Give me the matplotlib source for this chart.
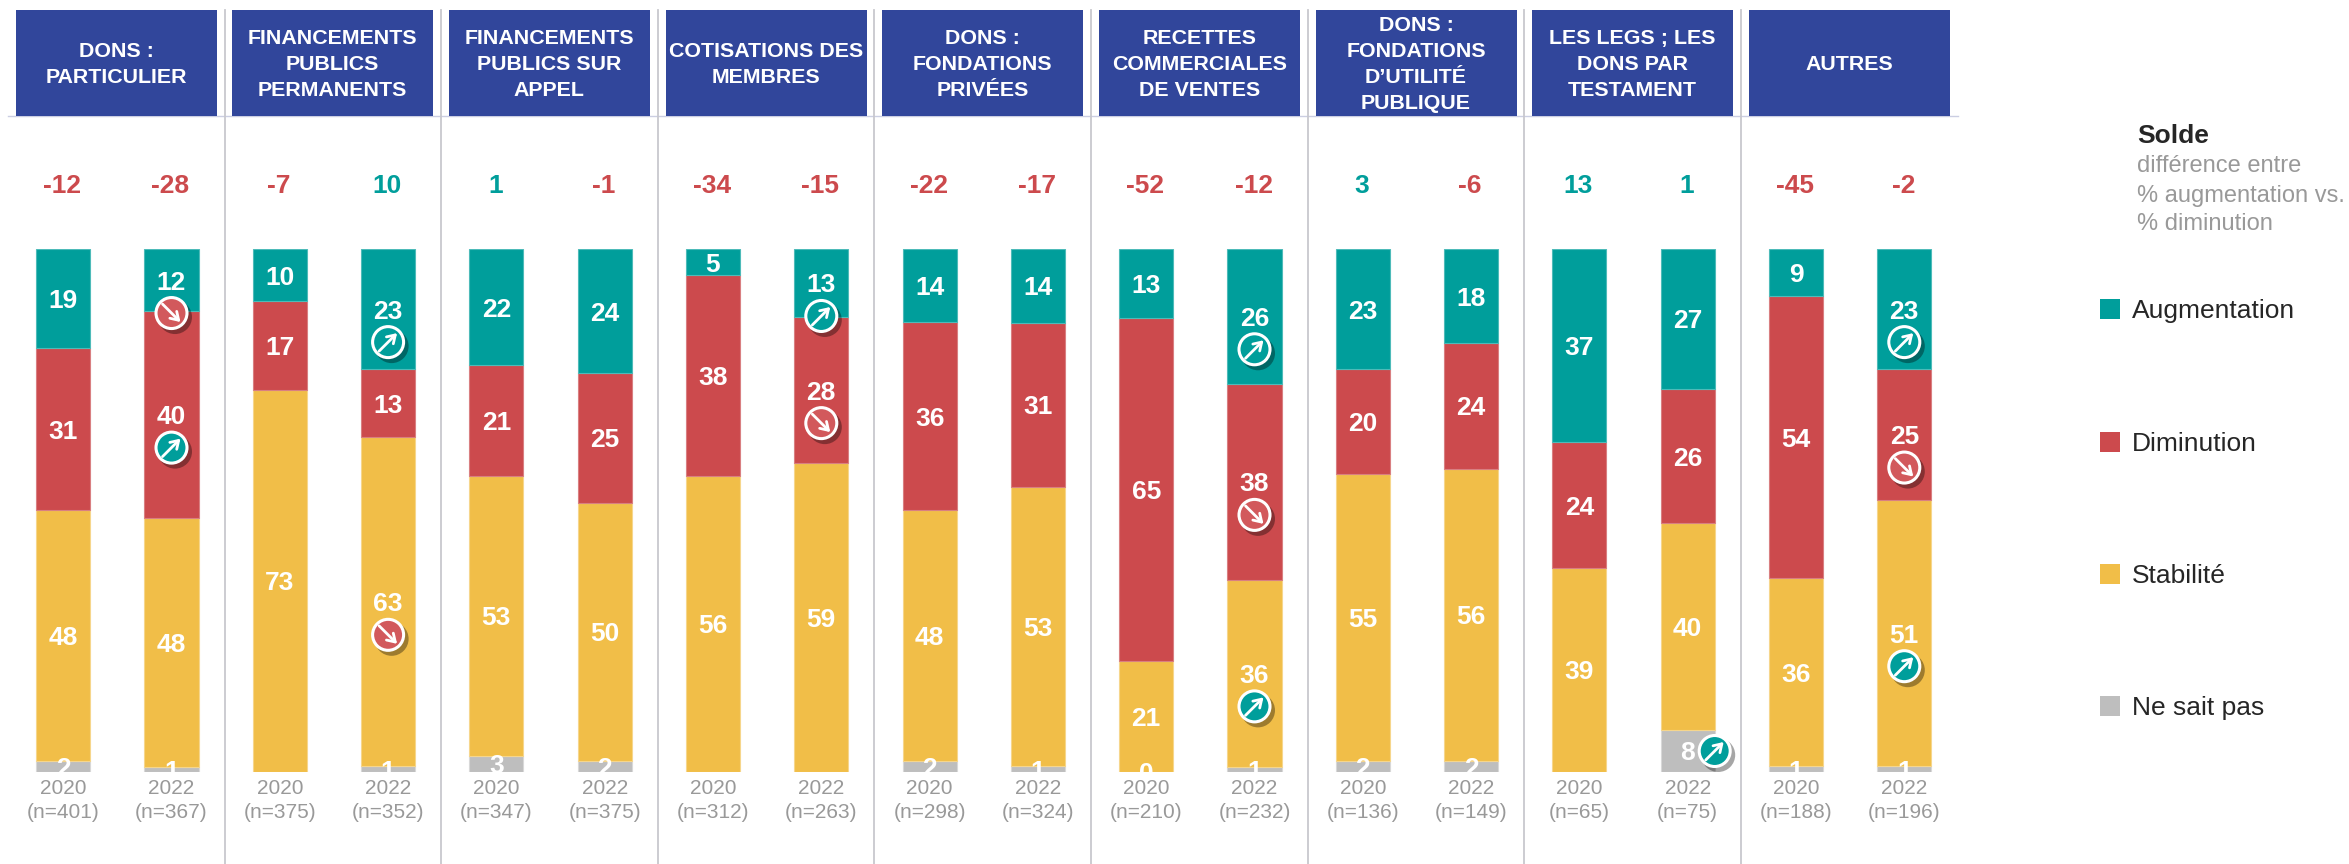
import matplotlib
matplotlib.use("Agg")
import matplotlib.pyplot as plt
from matplotlib.patches import Circle, Rectangle
import numpy as np

plt.rcParams["font.family"] = ["Liberation Sans", "DejaVu Sans"]

W, H = 2349, 864
TEAL = "#009E9B"
RED = "#CC4A4D"
YELLOW = "#F1BE48"
GREY = "#BEBEBE"
BLUE = "#31469B"
TEXT_GREY = "#999999"

categories = [
    "DONS :\nPARTICULIER",
    "FINANCEMENTS\nPUBLICS\nPERMANENTS",
    "FINANCEMENTS\nPUBLICS SUR\nAPPEL",
    "COTISATIONS DES\nMEMBRES",
    "DONS :\nFONDATIONS\nPRIVÉES",
    "RECETTES\nCOMMERCIALES\nDE VENTES",
    "DONS :\nFONDATIONS\nD’UTILITÉ\nPUBLIQUE",
    "LES LEGS ; LES\nDONS PAR\nTESTAMENT",
    "AUTRES",
]
years = ["2020", "2022"] * 9
sample_sizes = [401, 367, 375, 352, 347, 375, 312, 263, 298, 324,
                210, 232, 136, 149, 65, 75, 188, 196]
solde = [-12, -28, -7, 10, 1, -1, -34, -15, -22, -17,
         -52, -12, 3, -6, 13, 1, -45, -2]

augmentation = [19, 12, 10, 23, 22, 24, 5, 13, 14, 14, 13, 26, 23, 18, 37, 27, 9, 23]
diminution = [31, 40, 17, 13, 21, 25, 38, 28, 36, 31, 65, 38, 20, 24, 24, 26, 54, 25]
stabilite = [48, 48, 73, 63, 53, 50, 56, 59, 48, 53, 21, 36, 55, 56, 39, 40, 36, 51]
ne_sait_pas = [2, 1, 0, 1, 3, 2, 0, 0, 2, 1, 0, 1, 2, 2, 0, 8, 1, 1]
# zero values that carry a printed label (the others show no number)
labelled_zero = [10]

series_names = ["Augmentation", "Diminution", "Stabilité", "Ne sait pas"]
series_values = [augmentation, diminution, stabilite, ne_sait_pas]
series_colors = [TEAL, RED, YELLOW, GREY]
series_edges = ["#4DBBB9", "#D97F81", "#F6D68C", "#D8D8D8"]

# bar number, series number, direction of the significance badge
badges = [
    (1, 0, "down"), (1, 1, "up"),
    (3, 0, "up"), (3, 2, "down"),
    (7, 0, "up"), (7, 1, "down"),
    (11, 0, "up"), (11, 1, "down"), (11, 2, "up"),
    (15, 3, "up"),
    (17, 0, "up"), (17, 1, "down"), (17, 2, "up"),
]

BAR0 = 63.2
STEP = 108.3
TOP = 249.0
BOTTOM = 771.7

fig = plt.figure(figsize=(W / 100, H / 100), dpi=100, facecolor="white")

# overlay in pixel coordinates for everything that is not a bar
bg = fig.add_axes([0, 0, 1, 1])
bg.set_xlim(0, W)
bg.set_ylim(H, 0)
bg.axis("off")

ax = fig.add_axes([0, (H - BOTTOM) / H, 1, (BOTTOM - TOP) / H], facecolor="none")
ax.set_xlim(-BAR0 / STEP, (W - BAR0) / STEP)
ax.set_ylim(0, 100)
ax.axis("off")

top_layer = fig.add_axes([0, 0, 1, 1], facecolor="none")
top_layer.set_xlim(0, W)
top_layer.set_ylim(H, 0)
top_layer.axis("off")

values = np.array(series_values, dtype=float)
shares = values / values.sum(axis=0) * 100
x = np.arange(len(years))

# stack from the bottom: ne sait pas, stabilité, diminution, augmentation
bottoms = np.zeros(len(years))
centres = np.zeros_like(shares)
for s in [3, 2, 1, 0]:
    ax.bar(x, shares[s], 0.5, bottom=bottoms, color=series_colors[s],
           edgecolor=series_edges[s], linewidth=0.8)
    centres[s] = bottoms + shares[s] / 2
    bottoms += shares[s]

for s in range(4):
    for i in x:
        if values[s, i] == 0 and i not in labelled_zero:
            continue
        ax.text(i, centres[s, i], "%d" % values[s, i], ha="center", va="center_baseline",
                color="white", fontsize=19, fontweight="bold", clip_on=True)


def bar_px(i):
    return BAR0 + STEP * i


def share_px(v):
    return BOTTOM - (BOTTOM - TOP) * v / 100


# headers and separators
bg.plot([8, 1958], [115.5, 115.5], color="#CBCEE2", lw=1)
for k in range(8):
    sx = 224.5 + 216.65 * k
    bg.plot([sx, sx], [10, H], color="#C8C8CE", lw=1.3)
for k, cat in enumerate(categories):
    left = 15.6 + 216.65 * k
    bg.add_patch(Rectangle((left, 10), 201, 105.5, facecolor=BLUE, edgecolor="none", zorder=3))
    bg.text(left + 100.5, 64.5, cat, color="white", fontsize=15.4, fontweight="bold",
            ha="center", va="center", linespacing=1.46, zorder=4)

# solde and x labels
for i in x:
    col = TEAL if solde[i] > 0 else RED
    bg.text(bar_px(i) - 1, 186, str(solde[i]), color=col, fontsize=19, fontweight="bold",
            ha="center", va="center")
    bg.text(bar_px(i), 789, years[i], color=TEXT_GREY, fontsize=15, ha="center", va="center")
    bg.text(bar_px(i), 813, "(n=%d)" % sample_sizes[i], color=TEXT_GREY, fontsize=15,
            ha="center", va="center")

# badges
for i, s, direction in badges:
    if s == 3:
        bx, by = bar_px(i) + 27, share_px(centres[s, i])
    else:
        bx, by = bar_px(i), share_px(centres[s, i]) + 33
    face = TEAL if direction == "up" else "#D2595C"
    top_layer.add_patch(Circle((bx + 3.5, by + 4), 17, facecolor="black", alpha=0.35,
                               edgecolor="none"))
    top_layer.add_patch(Circle((bx, by), 15.5, facecolor=face, edgecolor="white", linewidth=2.2))
    if direction == "up":
        start, end = (bx - 9, by + 9), (bx + 9, by - 9)
    else:
        start, end = (bx - 9, by - 9), (bx + 9, by + 9)
    top_layer.annotate("", xy=end, xytext=start,
                       arrowprops=dict(arrowstyle="->,head_length=0.55,head_width=0.35",
                                       color="white", lw=2, shrinkA=0, shrinkB=0))

# legend block
bg.text(2137, 136, "Solde", color="#262626", fontsize=19, fontweight="bold", ha="left", va="center")
for y, line in zip([166, 196, 224], ["différence entre", "% augmentation vs.", "% diminution"]):
    bg.text(2137, y, line, color=TEXT_GREY, fontsize=17, ha="left", va="center")
for y, name, col in zip([310, 443, 575, 707], series_names, series_colors):
    bg.add_patch(Rectangle((2100, y - 11), 20, 20, facecolor=col, edgecolor="none"))
    bg.text(2132, y + 1, name, color="#262626", fontsize=19, ha="left", va="center")

fig.savefig("out.png", dpi=100)
